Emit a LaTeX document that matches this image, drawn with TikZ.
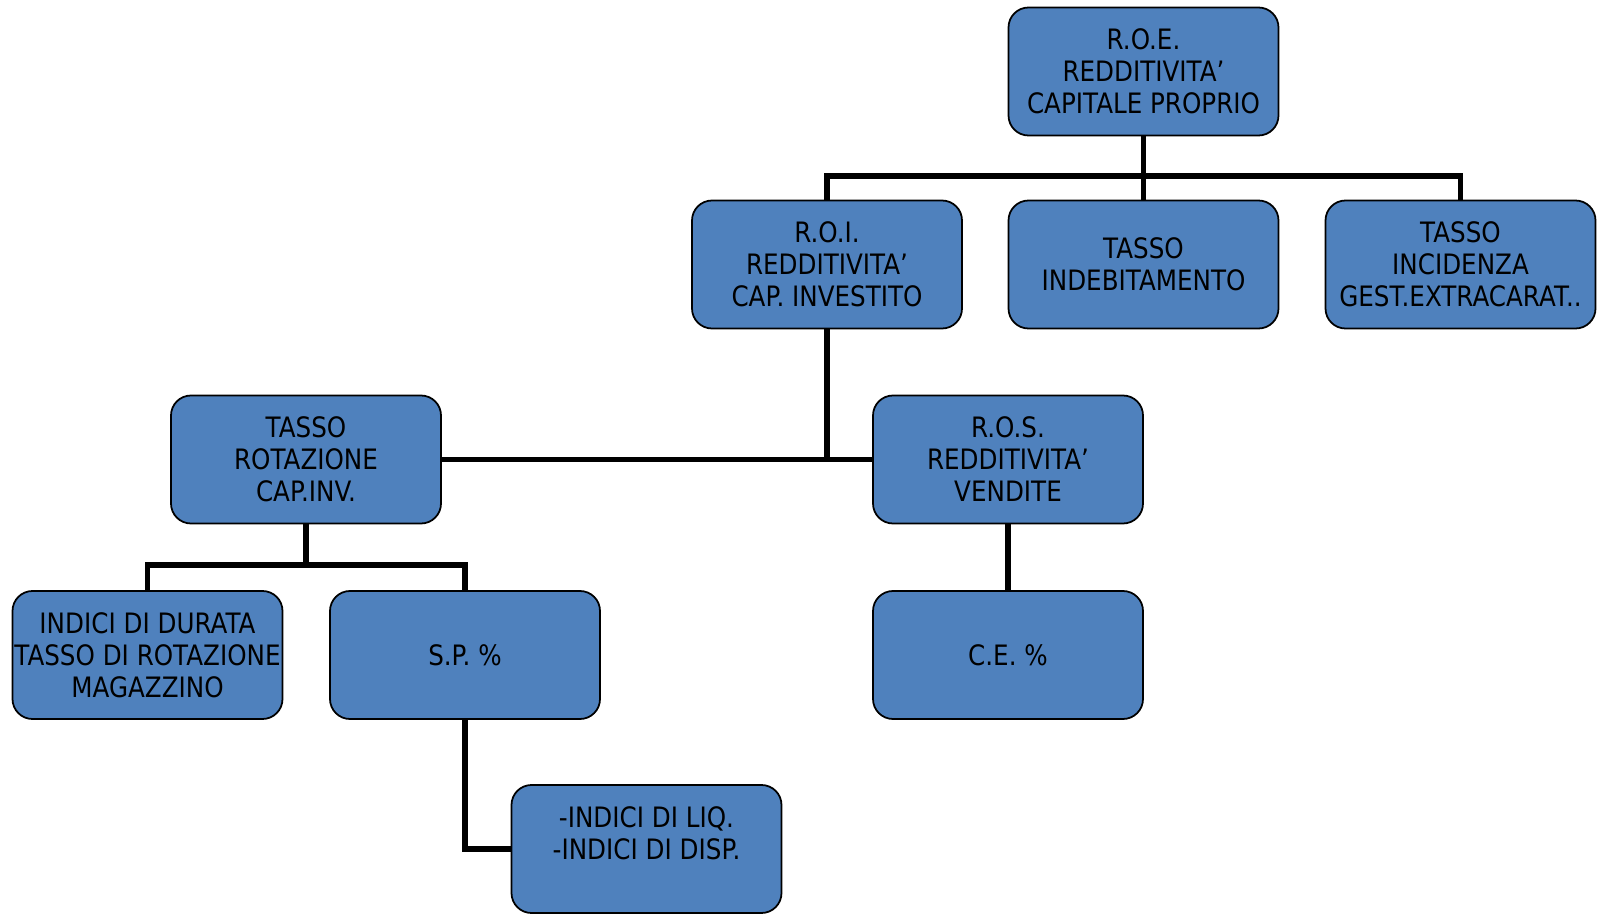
\documentclass[tikz,border=0pt]{standalone}
\usepackage{fontspec}
\setmainfont{DejaVu Sans}[FakeStretch=0.875]
\usepackage{tikz}
\definecolor{boxblue}{RGB}{79,129,189}

\begin{document}
\begin{tikzpicture}[main/.style = {draw, rounded corners=0.4cm, fill=boxblue, line width=1pt, minimum width=5.4cm, minimum height=2.56cm, align=center, inner sep=0pt, font=\fontsize{16}{18.2}\selectfont}, link/.style = {line width=3.2pt}]
			\useasboundingbox (0,0) rectangle (32.04,18.26);
			\node[main] (1) at (22.87,16.83) {R.O.E.\\REDDITIVITA'\\CAPITALE PROPRIO};
			\node[main] (2) at (16.54,12.97) {R.O.I.\\REDDITIVITA'\\CAP. INVESTITO};
			\node[main] (3) at (22.87,12.97) {TASSO\\INDEBITAMENTO};
			\node[main] (4) at (29.21,12.97) {TASSO\\INCIDENZA\\GEST.EXTRACARAT..};
			\node[main] (5) at (6.12,9.07) {TASSO\\ROTAZIONE\\CAP.INV.};
			\node[main] (6) at (20.16,9.07) {R.O.S.\\REDDITIVITA'\\VENDITE};
			\node[main] (7) at (2.95,5.16) {INDICI DI DURATA\\TASSO DI ROTAZIONE\\MAGAZZINO};
			\node[main] (8) at (9.30,5.16) {S.P. \%};
			\node[main] (9) at (20.16,5.16) {C.E. \%};
			\node[main] (10) at (12.93,1.28) {-INDICI DI LIQ.\\-INDICI DI DISP.\\~};
			\coordinate (b1) at (22.87,14.74);
			\coordinate (b2) at (6.12,6.96);
			\draw[link] (1.south) -- (b1);
			\draw[link] (2.north) |- (b1) -| (4.north);
			\draw[link] (b1) -- (3.north);
			\draw[link] (2.south) |- (5.east);
			\draw[link] (2.south) |- (6.west);
			\draw[link] (5.south) -- (b2);
			\draw[link] (7.north) |- (b2) -| (8.north);
			\draw[link] (6.south) -- (9.north);
			\draw[link] (8.south) |- (10.west);
		\end{tikzpicture}
\end{document}
